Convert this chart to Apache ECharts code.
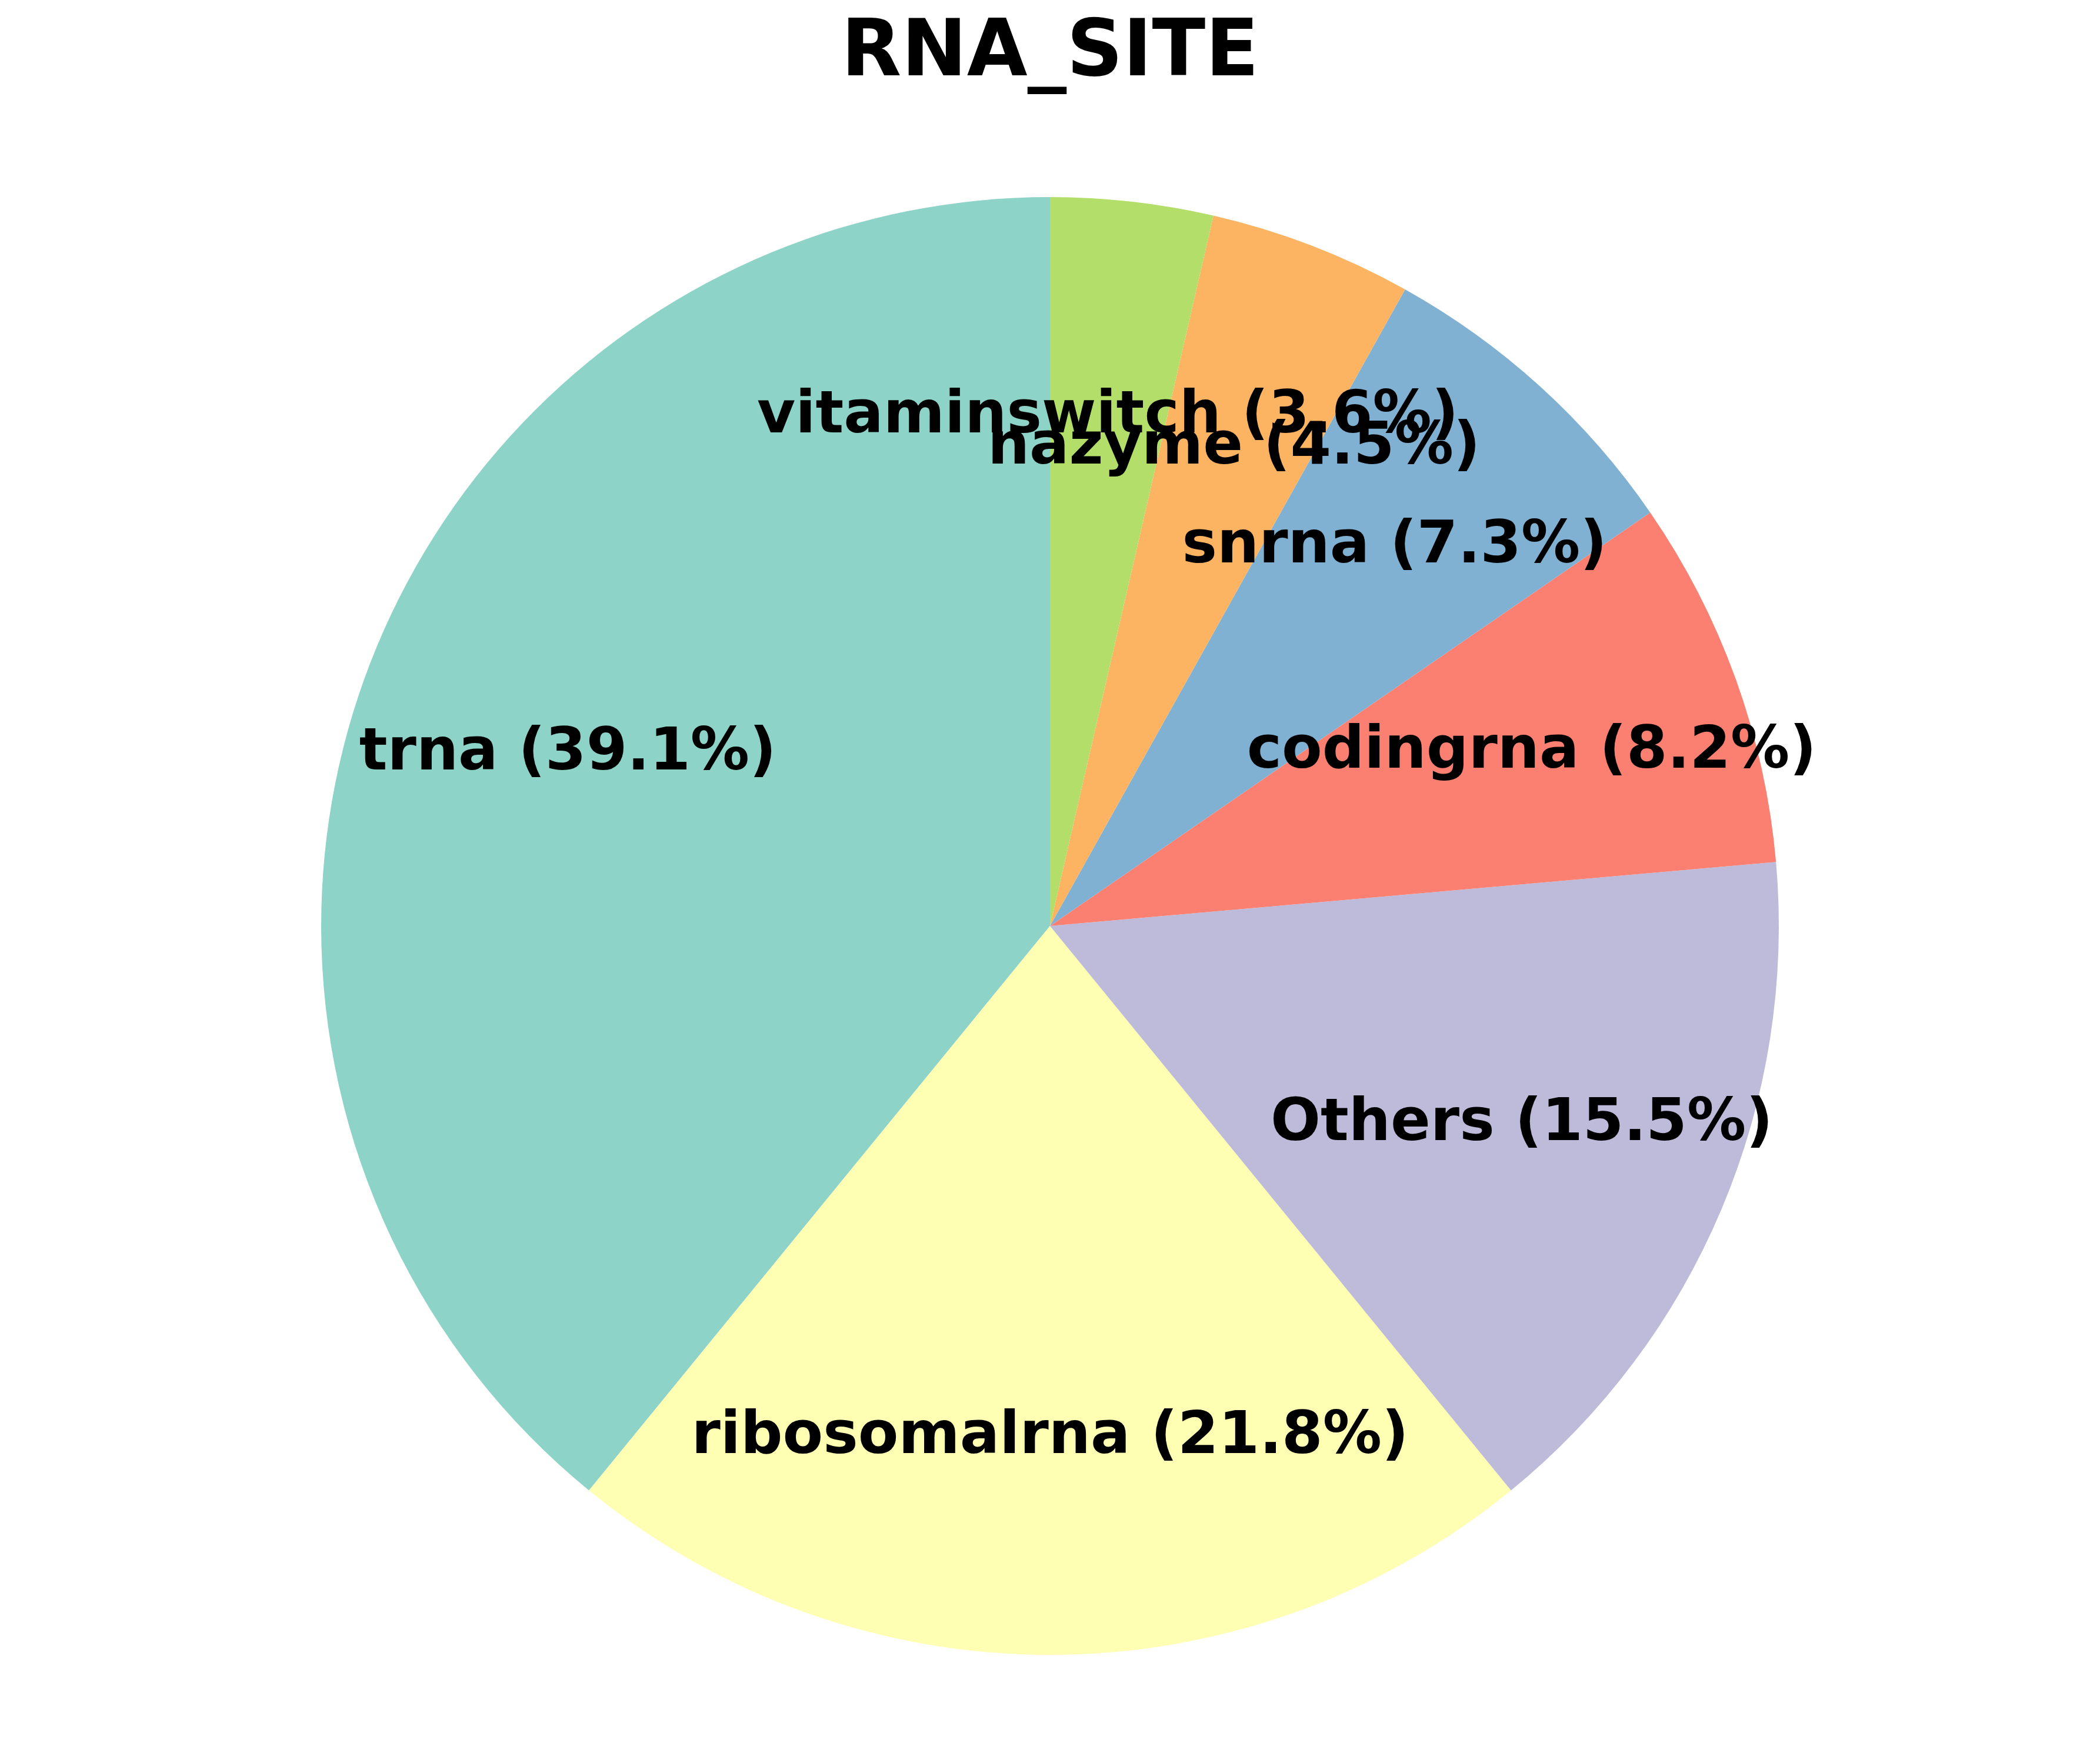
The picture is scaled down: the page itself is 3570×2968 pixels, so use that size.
<!DOCTYPE html>
<html>
<head>
<meta charset="utf-8">
<script src="https://cdn.jsdelivr.net/npm/echarts@6/dist/echarts.min.js"></script>
<style>
html,body{margin:0;padding:0;background:#fff;}
#chart{width:3570px;height:2968px;}
</style>
</head>
<body>
<div id="chart"></div>
<script>
const categories = ['trna', 'ribosomalrna', 'Others', 'codingrna', 'snrna', 'nazyme', 'vitaminswitch'];
const percentages = [39.1, 21.8, 15.5, 8.2, 7.3, 4.5, 3.6];
const colors = ['#8dd3c7', '#ffffb3', '#bebada', '#fb8072', '#80b1d3', '#fdb462', '#b3de69'];
const titleText = 'RNA_SITE';

const R = 1239;
const LABEL_FRAC = 0.7;
const center = [1785, 1574];
const font = 'DejaVu Sans';

const data = categories.map((c, i) => ({ name: c, value: percentages[i], itemStyle: { color: colors[i] } }));

const chart = echarts.init(document.getElementById('chart'), null, { renderer: 'canvas' });
chart.setOption({
  backgroundColor: '#ffffff',
  animation: false,
  title: {
    text: titleText,
    left: 'center',
    top: 22,
    textStyle: { fontFamily: font, fontWeight: 'bold', fontSize: 133, color: '#000' }
  },
  series: [
    {
      type: 'pie',
      center: center,
      radius: [0, R],
      startAngle: 90,
      clockwise: false,
      silent: true,
      avoidLabelOverlap: false,
      itemStyle: { borderWidth: 0 },
      label: { show: false },
      labelLine: { show: false },
      data: data
    },
    {
      type: 'pie',
      center: center,
      radius: [0, 2 * LABEL_FRAC * R],
      startAngle: 90,
      clockwise: false,
      silent: true,
      avoidLabelOverlap: false,
      labelLayout: { hideOverlap: false, moveOverlap: null },
      itemStyle: { color: 'rgba(0,0,0,0)', borderWidth: 0 },
      label: {
        show: true,
        position: 'inside',
        overflow: 'none',
        fontFamily: font,
        fontWeight: 'bold',
        fontSize: 100,
        color: '#000',
        formatter: p => p.name + ' (' + p.value.toFixed(1) + '%)'
      },
      labelLine: { show: false },
      data: categories.map((c, i) => ({ name: c, value: percentages[i], itemStyle: { color: 'rgba(0,0,0,0)' } }))
    }
  ]
});
</script>
</body>
</html>
